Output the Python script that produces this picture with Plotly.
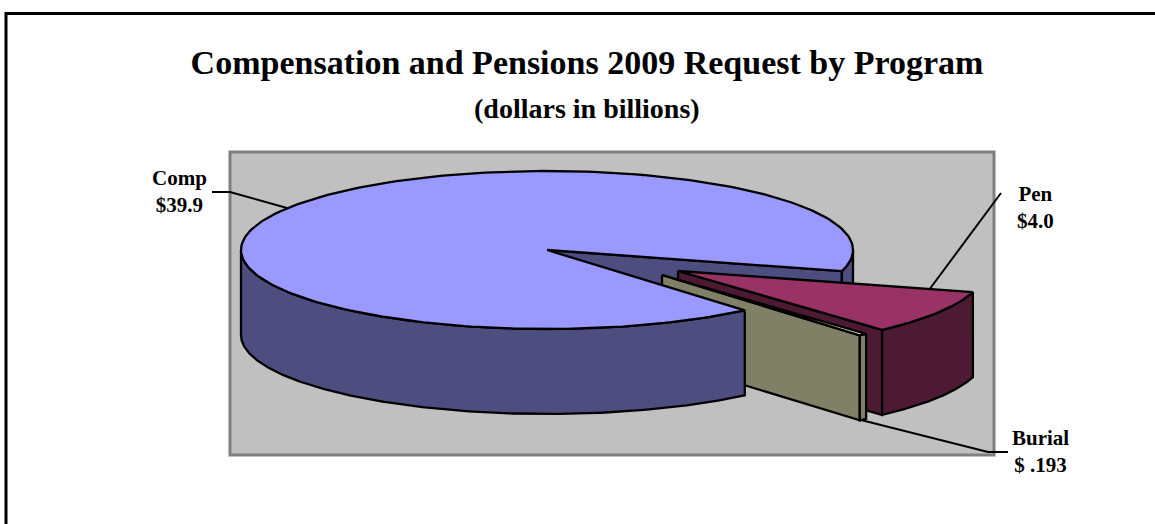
import numpy as np
import plotly.graph_objects as go

# ---- data ----
categories = ["Comp", "Pen", "Burial"]
values = [39.9, 4.0, 0.193]
value_labels = ["$39.9", "$4.0", "$ .193"]
title_text = "Compensation and Pensions 2009 Request by Program"
subtitle_text = "(dollars in billions)"

# ---- styling / projection ----
CX, CY, RX, RY, DEPTH = 547, 250, 306, 79, 85
START_DEG = 15.5
OFFSETS = {"Comp": (0, 0), "Pen": (131, 21), "Burial": (115, 25)}
TOP = {"Comp": "#9999FF", "Pen": "#993366", "Burial": "#FFFFCC"}
SIDE = {"Comp": "#4D4D80", "Pen": "#4D1A33", "Burial": "#808066"}
FONT = "Liberation Serif"
EDGE = dict(color="black", width=2.3)

total = sum(values)
sweep = [v / total * 360 for v in values]
# slices run clockwise on the page: Pen, Burial, then Comp
pen_a = START_DEG
pen_b = pen_a + sweep[1]
bur_a = pen_b
bur_b = bur_a + sweep[2]
comp_a = bur_b
comp_b = comp_a + sweep[0]
angles = {"Comp": (comp_a, comp_b), "Pen": (pen_a, pen_b), "Burial": (bur_a, bur_b)}


def rim(name, a, b, drop=0, n=240):
    t = np.radians(np.linspace(a, b, n))
    dx, dy = OFFSETS[name]
    return CX + dx + RX * np.cos(t), CY + dy + drop + RY * np.sin(t)


def apex(name, drop=0):
    dx, dy = OFFSETS[name]
    return CX + dx, CY + dy + drop


fig = go.Figure()


def poly(xs, ys, color):
    fig.add_trace(go.Scatter(x=list(xs) + [xs[0]], y=list(ys) + [ys[0]], mode="lines",
                             fill="toself", fillcolor=color, line=EDGE,
                             hoverinfo="skip", showlegend=False))


def top_face(name):
    a, b = angles[name]
    x, y = rim(name, a, b)
    ax, ay = apex(name)
    poly(np.r_[ax, x], np.r_[ay, y], TOP[name])


def outer_wall(name, a, b):
    x1, y1 = rim(name, a, b)
    x2, y2 = rim(name, a, b, DEPTH)
    poly(np.r_[x1, x2[::-1]], np.r_[y1, y2[::-1]], SIDE[name])


def cut_face(name, ang):
    x, y = rim(name, ang, ang, n=1)
    ax, ay = apex(name)
    poly([ax, x[0], x[0], ax], [ay, y[0], y[0] + DEPTH, ay + DEPTH], SIDE[name])


# Comp: back wall of the notch and the short wall behind it
cut_face("Comp", comp_b - 360)
outer_wall("Comp", 0, comp_b - 360)
# Pen
cut_face("Pen", pen_b)
outer_wall("Pen", pen_a, pen_b)
top_face("Pen")
# Burial
cut_face("Burial", bur_b)
outer_wall("Burial", bur_a, bur_b)
top_face("Burial")
# Comp: front wall and top sit in front of the Burial slice
outer_wall("Comp", comp_a, 180)
top_face("Comp")


def leader(xs, ys):
    fig.add_trace(go.Scatter(x=xs, y=ys, mode="lines", line=dict(color="black", width=2),
                             hoverinfo="skip", showlegend=False))


leader([212, 230, 287], [192, 192, 208])
leader([1001, 929], [193, 290])
leader([1008, 988, 861], [452, 452, 420])

label_pos = {"Comp": (179, 191), "Pen": (1035, 207), "Burial": (1040, 451)}
annotations = []
for name, lab in zip(categories, value_labels):
    lx, ly = label_pos[name]
    annotations.append(dict(x=lx, y=ly, xref="x", yref="y", showarrow=False, align="center",
                            text=f"<b>{name}<br>{lab}</b>",
                            font=dict(family=FONT, size=21, color="black")))
annotations.append(dict(x=587, y=108, xref="x", yref="y", showarrow=False,
                        text=f"<b>{subtitle_text}</b>",
                        font=dict(family=FONT, size=28, color="black")))

fig.update_layout(
    width=1155, height=524, margin=dict(l=0, r=0, t=0, b=0),
    paper_bgcolor="white", plot_bgcolor="white", showlegend=False,
    title=dict(text=f"<b>{title_text}</b>", x=587 / 1155, xanchor="center", xref="paper",
               y=1 - 62 / 524, yanchor="middle", yref="paper",
               font=dict(family=FONT, size=34, color="black")),
    xaxis=dict(range=[0, 1155], visible=False, fixedrange=True),
    yaxis=dict(range=[524, 0], visible=False, fixedrange=True),
    annotations=annotations,
    shapes=[
        dict(type="rect", x0=230, x1=994, y0=152, y1=455, xref="x", yref="y", layer="below",
             fillcolor="#C0C0C0", line=dict(color="#808080", width=3)),
        dict(type="path", path="M 6 530 L 6 13.5 L 1160 13.5", xref="x", yref="y",
             layer="below", line=dict(color="black", width=3)),
    ],
)

fig.write_html("out.html", config={"displayModeBar": False},
               post_script="document.body.style.margin='0';")
